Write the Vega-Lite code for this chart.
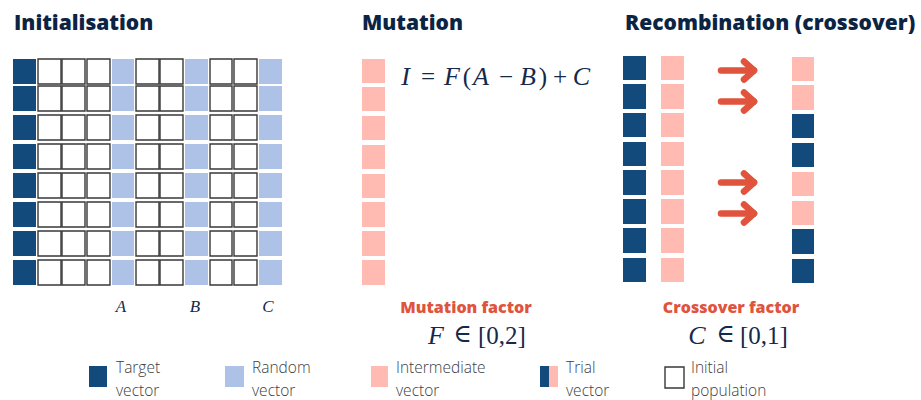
{
  "$schema": "https://vega.github.io/schema/vega-lite/v6.json",
  "width": 921,
  "height": 400,
  "padding": 0,
  "autosize": {"type": "fit", "contains": "padding"},
  "background": "white",
  "config": {"view": {"stroke": null}},
  "datasets": {
    "cells": [
      {"x":13,"x2":36,"y":59,"y2":84,"k":"t"},{"x":38,"x2":61,"y":59,"y2":84,"k":"i"},{"x":62,"x2":85,"y":59,"y2":84,"k":"i"},{"x":87,"x2":110,"y":59,"y2":84,"k":"i"},{"x":112,"x2":134,"y":59,"y2":84,"k":"r"},{"x":136,"x2":159,"y":59,"y2":84,"k":"i"},{"x":160,"x2":183,"y":59,"y2":84,"k":"i"},{"x":185,"x2":208,"y":59,"y2":84,"k":"r"},{"x":210,"x2":232,"y":59,"y2":84,"k":"i"},{"x":234,"x2":257,"y":59,"y2":84,"k":"i"},{"x":259,"x2":282,"y":59,"y2":84,"k":"r"},
      {"x":13,"x2":36,"y":86,"y2":111,"k":"t"},{"x":38,"x2":61,"y":86,"y2":111,"k":"i"},{"x":62,"x2":85,"y":86,"y2":111,"k":"i"},{"x":87,"x2":110,"y":86,"y2":111,"k":"i"},{"x":112,"x2":134,"y":86,"y2":111,"k":"r"},{"x":136,"x2":159,"y":86,"y2":111,"k":"i"},{"x":160,"x2":183,"y":86,"y2":111,"k":"i"},{"x":185,"x2":208,"y":86,"y2":111,"k":"r"},{"x":210,"x2":232,"y":86,"y2":111,"k":"i"},{"x":234,"x2":257,"y":86,"y2":111,"k":"i"},{"x":259,"x2":282,"y":86,"y2":111,"k":"r"},
      {"x":13,"x2":36,"y":115,"y2":140,"k":"t"},{"x":38,"x2":61,"y":115,"y2":140,"k":"i"},{"x":62,"x2":85,"y":115,"y2":140,"k":"i"},{"x":87,"x2":110,"y":115,"y2":140,"k":"i"},{"x":112,"x2":134,"y":115,"y2":140,"k":"r"},{"x":136,"x2":159,"y":115,"y2":140,"k":"i"},{"x":160,"x2":183,"y":115,"y2":140,"k":"i"},{"x":185,"x2":208,"y":115,"y2":140,"k":"r"},{"x":210,"x2":232,"y":115,"y2":140,"k":"i"},{"x":234,"x2":257,"y":115,"y2":140,"k":"i"},{"x":259,"x2":282,"y":115,"y2":140,"k":"r"},
      {"x":13,"x2":36,"y":144,"y2":169,"k":"t"},{"x":38,"x2":61,"y":144,"y2":169,"k":"i"},{"x":62,"x2":85,"y":144,"y2":169,"k":"i"},{"x":87,"x2":110,"y":144,"y2":169,"k":"i"},{"x":112,"x2":134,"y":144,"y2":169,"k":"r"},{"x":136,"x2":159,"y":144,"y2":169,"k":"i"},{"x":160,"x2":183,"y":144,"y2":169,"k":"i"},{"x":185,"x2":208,"y":144,"y2":169,"k":"r"},{"x":210,"x2":232,"y":144,"y2":169,"k":"i"},{"x":234,"x2":257,"y":144,"y2":169,"k":"i"},{"x":259,"x2":282,"y":144,"y2":169,"k":"r"},
      {"x":13,"x2":36,"y":173,"y2":198,"k":"t"},{"x":38,"x2":61,"y":173,"y2":198,"k":"i"},{"x":62,"x2":85,"y":173,"y2":198,"k":"i"},{"x":87,"x2":110,"y":173,"y2":198,"k":"i"},{"x":112,"x2":134,"y":173,"y2":198,"k":"r"},{"x":136,"x2":159,"y":173,"y2":198,"k":"i"},{"x":160,"x2":183,"y":173,"y2":198,"k":"i"},{"x":185,"x2":208,"y":173,"y2":198,"k":"r"},{"x":210,"x2":232,"y":173,"y2":198,"k":"i"},{"x":234,"x2":257,"y":173,"y2":198,"k":"i"},{"x":259,"x2":282,"y":173,"y2":198,"k":"r"},
      {"x":13,"x2":36,"y":202,"y2":227,"k":"t"},{"x":38,"x2":61,"y":202,"y2":227,"k":"i"},{"x":62,"x2":85,"y":202,"y2":227,"k":"i"},{"x":87,"x2":110,"y":202,"y2":227,"k":"i"},{"x":112,"x2":134,"y":202,"y2":227,"k":"r"},{"x":136,"x2":159,"y":202,"y2":227,"k":"i"},{"x":160,"x2":183,"y":202,"y2":227,"k":"i"},{"x":185,"x2":208,"y":202,"y2":227,"k":"r"},{"x":210,"x2":232,"y":202,"y2":227,"k":"i"},{"x":234,"x2":257,"y":202,"y2":227,"k":"i"},{"x":259,"x2":282,"y":202,"y2":227,"k":"r"},
      {"x":13,"x2":36,"y":231,"y2":256,"k":"t"},{"x":38,"x2":61,"y":231,"y2":256,"k":"i"},{"x":62,"x2":85,"y":231,"y2":256,"k":"i"},{"x":87,"x2":110,"y":231,"y2":256,"k":"i"},{"x":112,"x2":134,"y":231,"y2":256,"k":"r"},{"x":136,"x2":159,"y":231,"y2":256,"k":"i"},{"x":160,"x2":183,"y":231,"y2":256,"k":"i"},{"x":185,"x2":208,"y":231,"y2":256,"k":"r"},{"x":210,"x2":232,"y":231,"y2":256,"k":"i"},{"x":234,"x2":257,"y":231,"y2":256,"k":"i"},{"x":259,"x2":282,"y":231,"y2":256,"k":"r"},
      {"x":13,"x2":36,"y":260,"y2":285,"k":"t"},{"x":38,"x2":61,"y":260,"y2":285,"k":"i"},{"x":62,"x2":85,"y":260,"y2":285,"k":"i"},{"x":87,"x2":110,"y":260,"y2":285,"k":"i"},{"x":112,"x2":134,"y":260,"y2":285,"k":"r"},{"x":136,"x2":159,"y":260,"y2":285,"k":"i"},{"x":160,"x2":183,"y":260,"y2":285,"k":"i"},{"x":185,"x2":208,"y":260,"y2":285,"k":"r"},{"x":210,"x2":232,"y":260,"y2":285,"k":"i"},{"x":234,"x2":257,"y":260,"y2":285,"k":"i"},{"x":259,"x2":282,"y":260,"y2":285,"k":"r"},
      {"x":362,"x2":385,"y":59,"y2":83,"k":"p"},{"x":362,"x2":385,"y":87,"y2":111,"k":"p"},{"x":362,"x2":385,"y":116,"y2":140,"k":"p"},{"x":362,"x2":385,"y":145,"y2":169,"k":"p"},{"x":362,"x2":385,"y":174,"y2":198,"k":"p"},{"x":362,"x2":385,"y":202,"y2":227,"k":"p"},{"x":362,"x2":385,"y":231,"y2":256,"k":"p"},{"x":362,"x2":385,"y":260,"y2":285,"k":"p"},
      {"x":623,"x2":646,"y":56,"y2":80,"k":"t"},{"x":623,"x2":646,"y":84,"y2":109,"k":"t"},{"x":623,"x2":646,"y":113,"y2":137,"k":"t"},{"x":623,"x2":646,"y":142,"y2":166,"k":"t"},{"x":623,"x2":646,"y":170,"y2":195,"k":"t"},{"x":623,"x2":646,"y":199,"y2":224,"k":"t"},{"x":623,"x2":646,"y":228,"y2":253,"k":"t"},{"x":623,"x2":646,"y":258,"y2":282,"k":"t"},
      {"x":661,"x2":684,"y":56,"y2":80,"k":"p"},{"x":661,"x2":684,"y":84,"y2":109,"k":"p"},{"x":661,"x2":684,"y":113,"y2":137,"k":"p"},{"x":661,"x2":684,"y":142,"y2":166,"k":"p"},{"x":661,"x2":684,"y":170,"y2":195,"k":"p"},{"x":661,"x2":684,"y":199,"y2":224,"k":"p"},{"x":661,"x2":684,"y":228,"y2":253,"k":"p"},{"x":661,"x2":684,"y":258,"y2":282,"k":"p"},
      {"x":792,"x2":814,"y":57,"y2":81,"k":"p"},{"x":792,"x2":814,"y":85,"y2":110,"k":"p"},{"x":792,"x2":814,"y":114,"y2":138,"k":"t"},{"x":792,"x2":814,"y":143,"y2":167,"k":"t"},{"x":792,"x2":814,"y":172,"y2":196,"k":"p"},{"x":792,"x2":814,"y":201,"y2":225,"k":"p"},{"x":792,"x2":814,"y":229,"y2":254,"k":"t"},{"x":792,"x2":814,"y":259,"y2":283,"k":"t"},
      {"x":89,"x2":107,"y":366,"y2":387,"k":"t"},{"x":225,"x2":244,"y":366,"y2":387,"k":"r"},{"x":371,"x2":388,"y":366,"y2":387,"k":"p"},{"x":540,"x2":549,"y":366,"y2":387,"k":"t"},{"x":549,"x2":558,"y":366,"y2":387,"k":"p"},{"x":665,"x2":684,"y":367,"y2":388,"k":"i"}
    ],
    "arrows": [
      {"x":721,"x2":751,"y":70.5,"y2":70.5},{"x":744,"x2":754,"y":61.5,"y2":70.5},{"x":744,"x2":754,"y":79.5,"y2":70.5},
      {"x":721,"x2":751,"y":101.5,"y2":101.5},{"x":744,"x2":754,"y":92.5,"y2":101.5},{"x":744,"x2":754,"y":110.5,"y2":101.5},
      {"x":721,"x2":751,"y":182.5,"y2":182.5},{"x":744,"x2":754,"y":173.5,"y2":182.5},{"x":744,"x2":754,"y":191.5,"y2":182.5},
      {"x":721,"x2":751,"y":213.5,"y2":213.5},{"x":744,"x2":754,"y":204.5,"y2":213.5},{"x":744,"x2":754,"y":222.5,"y2":213.5}
    ],
    "titles": [
      {"t":"Initialisation","x":14,"y":30},
      {"t":"Mutation","x":362,"y":30},
      {"t":"Recombination (crossover)","x":625,"y":30}
    ],
    "mathItalic": [
      {"t":"I","x":405.5,"y":85},{"t":"F","x":452,"y":85},{"t":"A","x":481,"y":85},{"t":"B","x":528,"y":85},{"t":"C","x":581.5,"y":85},
      {"t":"F","x":436,"y":343.5},{"t":"C","x":697,"y":343.5}
    ],
    "mathUpright": [
      {"t":"=","x":428,"y":85},{"t":"(","x":467,"y":85},{"t":"−","x":506,"y":85},{"t":")","x":543,"y":85},{"t":"+","x":560,"y":85},
      {"t":"[0,2]","x":502,"y":343.5},
      {"t":"[0,1]","x":764,"y":343.5}
    ],
    "elem": [
      {"t":"∈","x":462.5,"y":342},
      {"t":"∈","x":725.5,"y":342}
    ],
    "letters": [
      {"t":"A","x":121,"y":312},
      {"t":"B","x":195,"y":312},
      {"t":"C","x":268,"y":312}
    ],
    "factors": [
      {"t":"Mutation factor","x":466,"y":313},
      {"t":"Crossover factor","x":731,"y":313}
    ],
    "legend": [
      {"t":"Target","x":116,"y":373},{"t":"vector","x":116,"y":396},
      {"t":"Random","x":252,"y":373},{"t":"vector","x":252,"y":396},
      {"t":"Intermediate","x":396,"y":373},{"t":"vector","x":396,"y":396},
      {"t":"Trial","x":566,"y":373},{"t":"vector","x":566,"y":396},
      {"t":"Initial","x":691,"y":373},{"t":"population","x":691,"y":396}
    ]
  },
  "layer": [
    {
      "data": {"name": "cells"},
      "mark": {"type": "rect", "strokeWidth": 1.4},
      "encoding": {
        "x": {"field": "x", "type": "quantitative", "scale": {"domain": [0, 921], "nice": false, "zero": false}, "axis": null},
        "x2": {"field": "x2"},
        "y": {"field": "y", "type": "quantitative", "scale": {"domain": [0, 400], "nice": false, "zero": false, "reverse": true}, "axis": null},
        "y2": {"field": "y2"},
        "fill": {"field": "k", "type": "nominal", "scale": {"domain": ["t", "r", "p", "i"], "range": ["#134a7c", "#adc2e6", "#ffbbb1", "#ffffff"]}, "legend": null},
        "stroke": {"condition": {"test": "datum.k === 'i'", "value": "#383838"}, "value": "transparent"}
      }
    },
    {
      "data": {"name": "arrows"},
      "mark": {"type": "rule", "color": "#e0533d", "strokeWidth": 6.5, "strokeCap": "round"},
      "encoding": {
        "x": {"field": "x", "type": "quantitative"},
        "x2": {"field": "x2"},
        "y": {"field": "y", "type": "quantitative"},
        "y2": {"field": "y2"}
      }
    },
    {
      "data": {"name": "titles"},
      "mark": {"type": "text", "align": "left", "baseline": "alphabetic", "font": "Open Sans", "fontWeight": 800, "fontSize": 21, "color": "#0c2444"},
      "encoding": {
        "x": {"field": "x", "type": "quantitative"},
        "y": {"field": "y", "type": "quantitative"},
        "text": {"field": "t"}
      }
    },
    {
      "data": {"name": "mathItalic"},
      "mark": {"type": "text", "align": "center", "baseline": "alphabetic", "font": "Liberation Serif", "fontStyle": "italic", "fontSize": 26, "color": "#15294a"},
      "encoding": {
        "x": {"field": "x", "type": "quantitative"},
        "y": {"field": "y", "type": "quantitative"},
        "text": {"field": "t"}
      }
    },
    {
      "data": {"name": "mathUpright"},
      "mark": {"type": "text", "align": "center", "baseline": "alphabetic", "font": "Liberation Serif", "fontSize": 25, "color": "#15294a"},
      "encoding": {
        "x": {"field": "x", "type": "quantitative"},
        "y": {"field": "y", "type": "quantitative"},
        "text": {"field": "t"}
      }
    },
    {
      "data": {"name": "elem"},
      "mark": {"type": "text", "align": "center", "baseline": "alphabetic", "font": "DejaVu Serif", "fontSize": 25, "color": "#15294a"},
      "encoding": {
        "x": {"field": "x", "type": "quantitative"},
        "y": {"field": "y", "type": "quantitative"},
        "text": {"field": "t"}
      }
    },
    {
      "data": {"name": "letters"},
      "mark": {"type": "text", "align": "center", "baseline": "alphabetic", "font": "Liberation Serif", "fontStyle": "italic", "fontSize": 17, "color": "#15294a"},
      "encoding": {
        "x": {"field": "x", "type": "quantitative"},
        "y": {"field": "y", "type": "quantitative"},
        "text": {"field": "t"}
      }
    },
    {
      "data": {"name": "factors"},
      "mark": {"type": "text", "align": "center", "baseline": "alphabetic", "font": "Open Sans", "fontWeight": 800, "fontSize": 16, "color": "#e0533d"},
      "encoding": {
        "x": {"field": "x", "type": "quantitative"},
        "y": {"field": "y", "type": "quantitative"},
        "text": {"field": "t"}
      }
    },
    {
      "data": {"name": "legend"},
      "mark": {"type": "text", "align": "left", "baseline": "alphabetic", "font": "Open Sans", "fontWeight": 300, "fontSize": 15.5, "color": "#404040"},
      "encoding": {
        "x": {"field": "x", "type": "quantitative"},
        "y": {"field": "y", "type": "quantitative"},
        "text": {"field": "t"}
      }
    }
  ]
}
